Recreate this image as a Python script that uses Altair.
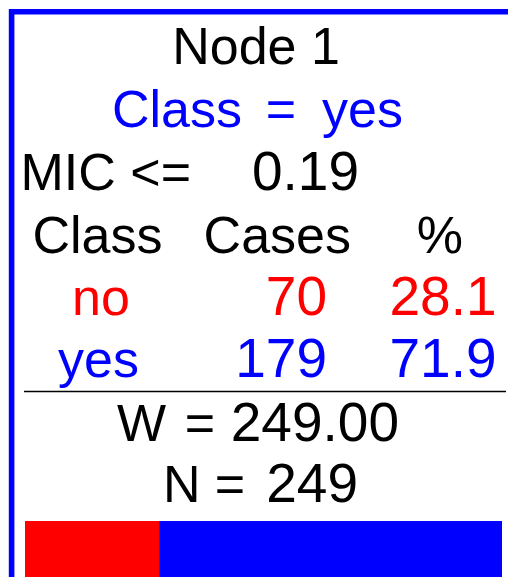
import altair as alt
import pandas as pd

node_id = 1
predicted_class = "yes"
split_variable = "MIC"
split_operator = "<="
split_value = "0.19"
classes = ["no", "yes"]
cases = [70, 179]
percents = ["28.1", "71.9"]
weight = "249.00"
n_total = 249
class_colors = ["#ff0000", "#0000ff"]

# ---- layout (screen pixels; the scales below map value -> pixel) ----
W, H = 500, 569
FS = 52      # letters
FSN = 55     # numbers (the reference digits are a bit wider)
FONT = "Liberation Sans"
base = [64, 127, 190, 253, 315, 377, 441, 502]  # text baselines per row

xs = alt.Scale(domain=[8, 8 + W], nice=False, zero=False)
ys = alt.Scale(domain=[8, 8 + H], nice=False, zero=False, reverse=True)

center_rows = pd.DataFrame({
    "t": [f"Node {node_id}", "=", "Class", "=", "="] + classes,
    "x": [256, 281, 97.5, 200, 230, 101, 98.5],
    "y": [base[0], base[1], base[3], base[6], base[7], base[4], base[5]],
    "c": ["black", class_colors[1], "black", "black", "black"] + class_colors,
})
left_rows = pd.DataFrame({
    "t": [f"{split_variable} {split_operator}", "Class", "W", "N"],
    "x": [20.5, 112, 117, 163],
    "y": [base[2], base[1], base[6], base[7]],
    "c": ["black", class_colors[1], "black", "black"],
})
right_letters = pd.DataFrame({
    "t": [predicted_class, "Cases", "%"],
    "x": [403, 351, 463],
    "y": [base[1], base[3], base[3]],
    "c": [class_colors[1], "black", "black"],
})
right_numbers = pd.DataFrame({
    "t": [split_value, weight, str(n_total)]
         + [str(v) for v in cases] + percents,
    "x": [359, 399, 358, 327, 327, 496.5, 496.5],
    "y": [base[2], base[6], base[7], base[4], base[5], base[4], base[5]],
    "c": ["black", "black", "black"] + class_colors + class_colors,
})

def text_layer(df, align, size):
    return alt.Chart(df).mark_text(
        align=align, baseline="alphabetic", font=FONT, fontSize=size
    ).encode(
        x=alt.X("x:Q", scale=xs, axis=None),
        y=alt.Y("y:Q", scale=ys, axis=None),
        text="t:N",
        color=alt.Color("c:N", scale=None, legend=None),
    )

frame = pd.DataFrame({"x": [11.6], "x2": [530], "y": [11.8], "y2": [640]})
border = alt.Chart(frame).mark_rect(
    fill=None, stroke="#0000ff", strokeWidth=5.6
).encode(
    x=alt.X("x:Q", scale=xs, axis=None), x2="x2:Q",
    y=alt.Y("y:Q", scale=ys, axis=None), y2="y2:Q",
)

sep = pd.DataFrame({"x": [24], "x2": [506], "y": [391.5]})
rule = alt.Chart(sep).mark_rule(color="black", strokeWidth=1.6).encode(
    x=alt.X("x:Q", scale=xs, axis=None), x2="x2:Q",
    y=alt.Y("y:Q", scale=ys, axis=None),
)

bar_df = pd.DataFrame({"cls": classes, "cases": cases, "order": [0, 1],
                       "top": [521, 521], "bottom": [579, 579]})
bar = alt.Chart(bar_df).transform_window(
    end="sum(cases)", sort=[alt.SortField("order")]
).transform_calculate(
    start="datum.end - datum.cases"
).mark_rect(stroke=None).encode(
    x=alt.X("start:Q",
            scale=alt.Scale(domain=[0, sum(cases)], range=[17, 494], nice=False, zero=False),
            axis=None),
    x2="end:Q",
    y=alt.Y("top:Q", scale=ys, axis=None), y2="bottom:Q",
    color=alt.Color("cls:N", scale=alt.Scale(domain=classes, range=class_colors),
                    legend=None),
)

chart = alt.layer(
    border, rule, bar,
    text_layer(center_rows, "center", FS),
    text_layer(left_rows, "left", FS),
    text_layer(right_letters, "right", FS),
    text_layer(right_numbers, "right", FSN),
).resolve_scale(x="independent", color="independent").properties(
    width=W, height=H, padding=0, autosize=alt.AutoSizeParams(type="none"),
    background="white",
).configure_view(stroke=None)

chart.save("out.html", embed_options={"renderer": "svg", "actions": False})
